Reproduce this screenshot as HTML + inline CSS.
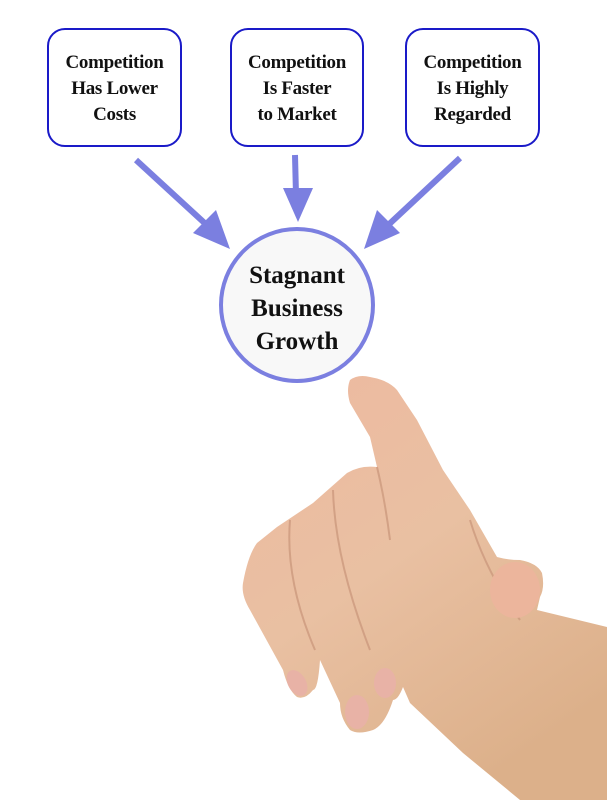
<!DOCTYPE html>
<html><head><style>
body{margin:0;width:607px;height:800px;background:#fff;position:relative;overflow:hidden;font-family:"Liberation Serif",serif}
.b{position:absolute;top:28px;width:130px;height:119px;border:2.5px solid #1a1ac8;border-radius:18px;text-align:center;font-size:19px;line-height:26px;box-sizing:border-box;padding-top:20px;color:#111;font-weight:bold;letter-spacing:-0.3px}
.c{position:absolute;left:219px;top:227px;width:156px;height:156px;border:4px solid #7b7fe0;border-radius:50%;box-sizing:border-box;background:#f8f8f8;text-align:center;font-size:25px;line-height:33px;padding-top:28px;color:#111;font-weight:bold}
</style></head><body>
<svg width="607" height="800" style="position:absolute;left:0;top:0">
<defs><linearGradient id="g" x1="0" y1="0" x2="0.6" y2="1">
<stop offset="0" stop-color="#eeb9a0"/><stop offset="0.5" stop-color="#e9c0a2"/><stop offset="1" stop-color="#dcb08a"/></linearGradient></defs>
<g stroke="#7b7fe0" stroke-width="6" fill="#7b7fe0">
<line x1="136" y1="160" x2="210" y2="228"/>
<line x1="295" y1="155" x2="296" y2="195"/>
<line x1="460" y1="158" x2="385" y2="228"/>
</g>
<g fill="#7b7fe0">
<polygon points="230,249 193,233 216,210"/>
<polygon points="298,222 283,188 313,188"/>
<polygon points="364,249 377,210 400,233"/>
</g>
<path fill="url(#g)" d="M350,380 Q358,374 370,377 Q388,380 397,390 L417,420 L443,470 L470,510 L497,557 Q508,560 520,560 Q537,563 542,573 Q545,588 540,597 L537,610 L607,627 L607,800 L520,800 L463,753 L410,703 L403,687 Q398,700 393,700 Q385,725 373,730 Q358,735 350,730 Q340,718 340,703 L320,660 Q318,690 313,690 Q305,700 297,697 Q288,690 283,670 L250,610 Q241,595 243,583 Q248,555 257,543 L277,527 L313,503 L347,473 Q360,465 377,467 L370,437 L350,403 Q346,390 350,380Z"/>
<g fill="none" stroke="#c9957a" stroke-width="2" opacity="0.7">
<path d="M377,467 Q385,500 390,540"/>
<path d="M333,490 Q335,560 370,650"/>
<path d="M290,520 Q285,580 315,650"/>
<path d="M470,520 Q485,570 520,620"/>
</g>
<g fill="#e8b2a6"><ellipse cx="297" cy="683" rx="9" ry="14" transform="rotate(-30 297 683)"/><ellipse cx="357" cy="712" rx="12" ry="17"/><ellipse cx="385" cy="683" rx="11" ry="15"/></g>
<ellipse cx="515" cy="590" rx="25" ry="28" fill="#ecb59c"/>
</svg>
<div class="b" style="left:47px;width:135px">Competition<br>Has Lower<br>Costs</div>
<div class="b" style="left:230px;width:134px">Competition<br>Is Faster<br>to Market</div>
<div class="b" style="left:405px;width:135px">Competition<br>Is Highly<br>Regarded</div>
<div class="c">Stagnant<br>Business<br>Growth</div>
</body></html>
